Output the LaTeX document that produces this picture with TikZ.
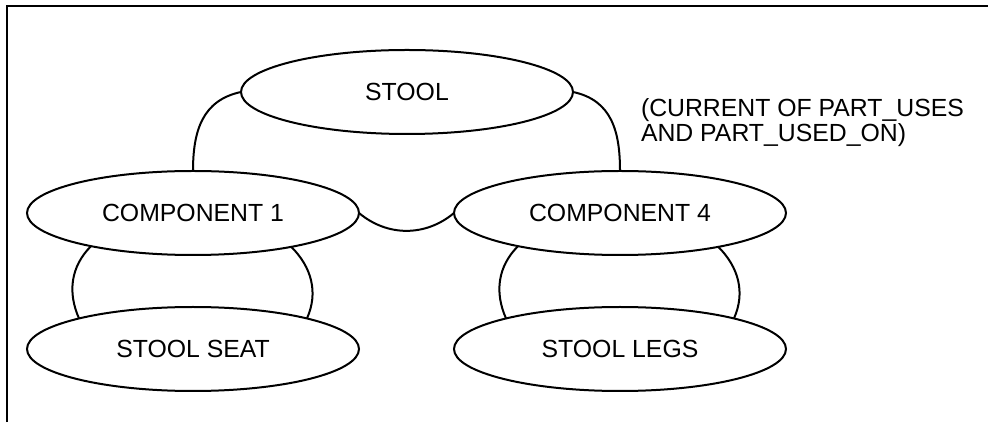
\documentclass[tikz,border=0pt]{standalone}
\usepackage{fontspec}
\setmainfont{Liberation Sans}
\usetikzlibrary{shapes.geometric}

\begin{document}
\begin{tikzpicture}[x=0.5pt, y=0.5pt, line width=1pt,
  every node/.style={font=\fontsize{12.4}{12.5}\selectfont},
  part/.style={draw, ellipse, minimum width=166pt, minimum height=42pt,
    inner sep=0pt, outer sep=0pt}]

\useasboundingbox (0,0) rectangle (988,422);

% frame
\draw[line width=1.3pt] (7,0) -- (7,416) -- (988,416);

\node[part] (stool) at (407,330) {STOOL};
\node[part] (c1)    at (193,209) {COMPONENT 1};
\node[part] (c4)    at (620,209) {COMPONENT 4};
\node[part] (seat)  at (193,73)  {STOOL SEAT};
\node[part] (legs)  at (620,73)  {STOOL LEGS};

\node[anchor=north west, align=left, inner sep=0pt] (note) at (640,324)
  {(CURRENT OF PART\_USES\\AND PART\_USED\_ON)};

\draw (stool.west) to[out=192, in=90, looseness=1.1] (c1.north);
\draw (stool.east) to[out=-12, in=90, looseness=1.1] (c4.north);
\draw (c1.east) to[out=-40, in=-140] (c4.west);

\foreach \a/\b in {c1/seat, c4/legs}{
    % two arcs between a component and its part
    \draw (\a.198) to[out=225, in=114] (\b.165);
    \draw (\a.341) to[out=-45, in=66] (\b.15);
}

\end{tikzpicture}
\end{document}
